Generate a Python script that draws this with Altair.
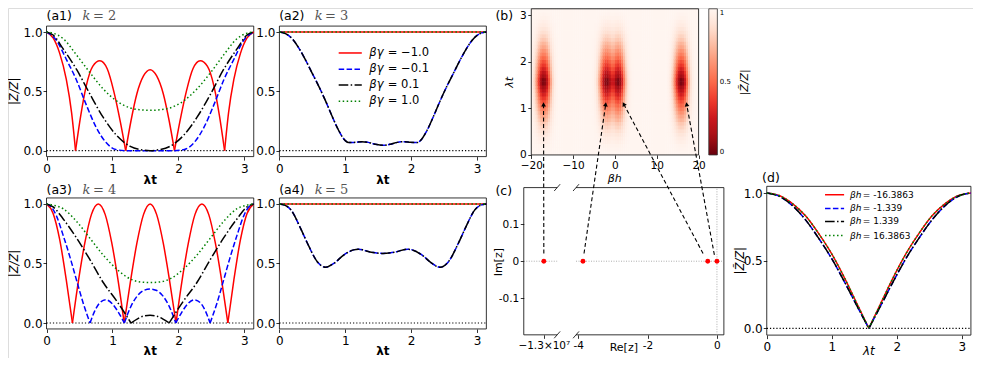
import math
import numpy as np
import pandas as pd
import altair as alt

PI = math.pi
FONT = "DejaVu Sans"
W, H = 965, 350
X0, SX = 3.5, 964.0 / 976.0
Y0, SY = 4.0, 350.0 / 358.0


def X(px):
    return (px - X0) * SX


def Y(py):
    return (py - Y0) * SY


# ---------------- data ----------------
# (a1) k = 2
a1_red_t = [0, 0.1, 0.2, 0.3, 0.38, 0.44, 0.52, 0.6, 0.7, 0.81, 0.92, 1.02, 1.12, 1.2,
            1.28, 1.37, 1.47, 1.571, 1.67, 1.77, 1.86, 1.94, 2.02, 2.12, 2.22, 2.33,
            2.44, 2.54, 2.62, 2.70, 2.76, 2.84, 2.94, 3.04, PI]
a1_red_v = [1.0, 0.95, 0.82, 0.60, 0.32, 0.0, 0.30, 0.54, 0.71, 0.757, 0.69, 0.50, 0.24, 0.0,
            0.25, 0.48, 0.63, 0.683, 0.63, 0.48, 0.25, 0.0, 0.24, 0.50, 0.69, 0.757,
            0.71, 0.54, 0.30, 0.0, 0.32, 0.60, 0.82, 0.95, 1.0]
a1_blue_t = [0, 0.15, 0.3, 0.45, 0.6, 0.75, 0.9, 1.05, 1.2, 1.35, 1.571, 1.79, 1.94, 2.09,
             2.24, 2.39, 2.54, 2.69, 2.84, 2.99, PI]
a1_blue_v = [1.0, 0.93, 0.77, 0.60, 0.39, 0.20, 0.07, 0.01, 0.0, 0.0, 0.0, 0.0, 0.0, 0.01,
             0.07, 0.20, 0.39, 0.60, 0.77, 0.93, 1.0]
a1_black_t = [0, 0.1, 0.25, 0.46, 0.655, 0.86, 1.06, 1.27, 1.47, 1.571, 1.67, 1.87, 2.08,
              2.28, 2.49, 2.68, 2.89, 3.04, PI]
a1_black_v = [1.0, 0.975, 0.86, 0.68, 0.48, 0.28, 0.13, 0.036, 0.005, 0.0, 0.005, 0.036, 0.13,
              0.28, 0.48, 0.68, 0.86, 0.975, 1.0]
a1_green_t = [0, 0.1, 0.25, 0.45, 0.655, 0.86, 1.06, 1.27, 1.42, 1.571, 1.72, 1.87, 2.08,
              2.28, 2.49, 2.69, 2.89, 3.04, PI]
a1_green_v = [1.0, 0.99, 0.945, 0.81, 0.66, 0.52, 0.42, 0.36, 0.345, 0.34, 0.345, 0.36, 0.42,
              0.52, 0.66, 0.81, 0.945, 0.99, 1.0]

# (a2) k = 3
flat_t = [0, PI]
flat_v = [1.0, 1.0]
a2_curve_t = [0, 0.1, 0.2, 0.3, 0.4, 0.5, 0.6, 0.7, 0.8, 0.9, 1.0, 1.05, 1.15, 1.25, 1.35,
              1.45, 1.571, 1.69, 1.79, 1.89, 1.99, 2.09, 2.14, 2.24, 2.34, 2.44, 2.54, 2.64,
              2.74, 2.84, 2.94, 3.04, PI]
a2_curve_v = [1.0, 0.985, 0.94, 0.86, 0.76, 0.65, 0.54, 0.42, 0.29, 0.17, 0.085, 0.068, 0.07,
              0.076, 0.07, 0.055, 0.045, 0.055, 0.07, 0.076, 0.07, 0.068, 0.085, 0.17, 0.29,
              0.42, 0.54, 0.65, 0.76, 0.86, 0.94, 0.985, 1.0]

# (a3) k = 4
a3_red_t = [0, 0.1, 0.2, 0.3, 0.393, 0.48, 0.58, 0.68, 0.785, 0.89, 0.99, 1.09, 1.178,
            1.27, 1.37, 1.47, 1.571, 1.67, 1.77, 1.87, 1.963, 2.05, 2.15, 2.25, 2.356,
            2.46, 2.56, 2.66, 2.749, 2.84, 2.94, 3.04, PI]
a3_red_v = [1.0, 0.92, 0.70, 0.36, 0.0, 0.34, 0.67, 0.91, 1.0, 0.91, 0.67, 0.34, 0.0,
            0.34, 0.67, 0.91, 1.0, 0.91, 0.67, 0.34, 0.0, 0.34, 0.67, 0.91, 1.0,
            0.91, 0.67, 0.34, 0.0, 0.36, 0.70, 0.92, 1.0]
a3_blue_t = [0, 0.08, 0.15, 0.25, 0.36, 0.46, 0.56, 0.66, 0.73, 0.8, 0.9, 1.0, 1.09, 1.18,
             1.28, 1.38, 1.48, 1.571, 1.66, 1.76, 1.86, 1.96, 2.05, 2.14, 2.24, 2.34, 2.41,
             2.48, 2.58, 2.68, 2.78, 2.89, 2.99, 3.06, PI]
a3_blue_v = [1.0, 0.97, 0.90, 0.74, 0.545, 0.35, 0.16, 0.0, 0.10, 0.165, 0.195, 0.16, 0.09, 0.0,
             0.14, 0.23, 0.275, 0.285, 0.275, 0.23, 0.14, 0.0, 0.09, 0.16, 0.195, 0.165, 0.10,
             0.0, 0.16, 0.35, 0.545, 0.74, 0.90, 0.97, 1.0]
a3_black_t = [0, 0.1, 0.25, 0.46, 0.66, 0.86, 1.07, 1.19, 1.28, 1.38, 1.47, 1.571, 1.67, 1.76,
              1.86, 1.95, 2.07, 2.28, 2.48, 2.68, 2.89, 3.04, PI]
a3_black_v = [1.0, 0.975, 0.876, 0.71, 0.53, 0.34, 0.18, 0.08, 0.0, 0.035, 0.058, 0.065, 0.058,
              0.035, 0.0, 0.08, 0.18, 0.34, 0.53, 0.71, 0.876, 0.975, 1.0]
a3_green_t = [0, 0.1, 0.25, 0.46, 0.66, 0.86, 1.07, 1.27, 1.42, 1.571, 1.72, 1.87, 2.07, 2.28,
              2.48, 2.68, 2.89, 3.04, PI]
a3_green_v = [1.0, 0.99, 0.96, 0.85, 0.71, 0.57, 0.45, 0.37, 0.345, 0.34, 0.345, 0.37, 0.45,
              0.57, 0.71, 0.85, 0.96, 0.99, 1.0]

# (a4) k = 5
a4_curve_t = [0, 0.08, 0.175, 0.325, 0.425, 0.575, 0.7, 0.825, 0.975, 1.125, 1.2, 1.375, 1.571,
              1.767, 1.942, 2.017, 2.167, 2.317, 2.442, 2.567, 2.717, 2.817, 2.967, 3.06, PI]
a4_curve_v = [1.0, 0.99, 0.95, 0.79, 0.67, 0.515, 0.468, 0.50, 0.57, 0.614, 0.62, 0.597, 0.584,
              0.597, 0.62, 0.614, 0.57, 0.50, 0.468, 0.515, 0.67, 0.79, 0.95, 0.99, 1.0]

# (d)
d_t = [0, 0.2, 0.4, 0.6, 0.8, 1.0, 1.2, 1.4, 1.571, 1.74, 1.94, 2.14, 2.34, 2.54, 2.74, 2.94, PI]
d_outer_v = [1.0, 0.98, 0.92, 0.83, 0.70, 0.55, 0.37, 0.17, 0.0, 0.17, 0.37, 0.55, 0.70, 0.83,
             0.92, 0.98, 1.0]
d_inner_v = [1.0, 0.975, 0.905, 0.80, 0.665, 0.515, 0.34, 0.155, 0.0, 0.155, 0.34, 0.515, 0.665,
             0.80, 0.905, 0.975, 1.0]

# (b) heat map: column depth profile (beta h, 0.5 wide cells from -20 to 20)
b_col_depth = [0.94, 0.82, 0.62, 0.35, 0.12, 0.01, 0.03, 0.16, 0.41, 0.67, 0.85, 0.95, 0.985, 1.0,
               1.0, 1.0, 1.0, 1.0, 1.0, 1.0, 1.0, 1.0, 1.0, 1.0, 1.0, 1.0, 1.0, 1.0, 1.0,
               0.985, 0.95, 0.85, 0.67, 0.41, 0.16, 0.03, 0.01, 0.10, 0.22, 0.20, 0.06, 0.0,
               0.06, 0.25, 0.52, 0.76, 0.90, 0.97, 0.995,
               1.0, 1.0, 1.0, 1.0, 1.0, 1.0, 1.0, 1.0, 1.0, 1.0, 1.0, 1.0, 1.0, 1.0, 1.0, 1.0,
               0.975, 0.92, 0.79, 0.57, 0.30, 0.09, 0.0, 0.04, 0.21, 0.47, 0.72, 0.88, 0.96,
               0.99, 1.0]
# row profile (lambda t, 40 rows from 0 to pi)
b_row_level = [1.0, 0.99, 0.98, 0.96, 0.94, 0.91, 0.87, 0.83, 0.79, 0.73, 0.68, 0.62, 0.56, 0.49,
               0.42, 0.35, 0.27, 0.19, 0.12, 0.04, 0.04, 0.12, 0.19, 0.27, 0.35, 0.42, 0.49, 0.56,
               0.62, 0.68, 0.73, 0.79, 0.83, 0.87, 0.91, 0.94, 0.96, 0.98, 0.99, 1.0]
# Reds_r colour stops
cmap_stops = [0, 0.125, 0.25, 0.375, 0.5, 0.625, 0.75, 0.875, 1.0]
cmap_colors = ["#67000d", "#a50f15", "#cb181d", "#ef3b2c", "#fb6a4a", "#fc9272", "#fcbba1",
               "#fee0d2", "#fff5f0"]

# (c) zeros in the complex plane
c_far_re = [-1.3e7]
c_near_re = [-3.86, -0.265, 0.0]
arrow_tail = [("cL", -1.3e7, 0.021), ("cR", -3.83, 0.021), ("cR", -0.40, 0.021), ("cR", -0.074, 0.017)]
arrow_tip = [(-17.07, 1.14), (-2.13, 1.14), (1.82, 1.14), (17.04, 1.14)]

legend_a = ["= \u22121.0", "= \u22120.1", "= 0.1", "= 1.0"]
legend_d = ["= -16.3863", "= -1.339", "= 1.339", "= 16.3863"]

# ---------------- geometry ----------------
P = {
    'a1': dict(xd=[0, PI], xr=[42.5, 252.3], yd=[-0.05, 1.05], yr=[156.0, 22.5]),
    'a2': dict(xd=[0, PI], xr=[278.3, 487.8], yd=[-0.05, 1.05], yr=[156.0, 22.5]),
    'a3': dict(xd=[0, PI], xr=[42.5, 252.3], yd=[-0.05, 1.05], yr=[332.3, 198.3]),
    'a4': dict(xd=[0, PI], xr=[278.3, 487.8], yd=[-0.05, 1.05], yr=[332.3, 198.3]),
    'b': dict(xd=[-20, 20], xr=[533.3, 702.7], yd=[0, PI], yr=[154.3, 4.8]),
    'cL': dict(xd=[-13203000, -12865000], xr=[525.7, 559.5], yd=[-0.2, 0.2], yr=[338.3, 187.7]),
    'cR': dict(xd=[-4.06, 0.2], xr=[578.6, 728.3], yd=[-0.2, 0.2], yr=[338.3, 187.7]),
    'd': dict(xd=[0, PI], xr=[771.7, 978.4], yd=[-0.05, 1.05], yr=[338.6, 186.4]),
}


def sx(p):
    g = P[p]
    return alt.Scale(domain=g['xd'], range=[X(g['xr'][0]), X(g['xr'][1])], nice=False, zero=False)


def sy(p):
    g = P[p]
    return alt.Scale(domain=g['yd'], range=[Y(g['yr'][0]), Y(g['yr'][1])], nice=False, zero=False)


def to_px(p, xv, yv):
    g = P[p]
    px = g['xr'][0] + (xv - g['xd'][0]) * (g['xr'][1] - g['xr'][0]) / (g['xd'][1] - g['xd'][0])
    py = g['yr'][0] + (yv - g['yd'][0]) * (g['yr'][1] - g['yr'][0]) / (g['yd'][1] - g['yd'][0])
    return X(px), Y(py)


AX = dict(grid=False, domain=False, ticks=True, tickColor='black', tickWidth=0.8, tickSize=3.5,
          labelFont=FONT, labelColor='black', labelFlush=False, labelOverlap=False, title=None)


def bottom_axis(p, values, size=12, fmt=None, expr=None, pad=3):
    kw = dict(AX, orient='bottom', offset=Y(P[p]['yr'][0]) - H, values=values,
              labelFontSize=size, labelPadding=pad)
    if fmt:
        kw['format'] = fmt
    if expr:
        kw['labelExpr'] = expr
    return alt.Axis(**kw)


def left_axis(p, values, size=12, fmt=None, expr=None, pad=1.0):
    kw = dict(AX, orient='left', offset=-X(P[p]['xr'][0]), values=values,
              labelFontSize=size, labelPadding=pad)
    if fmt:
        kw['format'] = fmt
    if expr:
        kw['labelExpr'] = expr
    return alt.Axis(**kw)


def frame(p, xaxis, yaxis):
    g = P[p]
    df = pd.DataFrame({'x0': [g['xd'][0]], 'x1': [g['xd'][1]], 'y0': [g['yd'][0]], 'y1': [g['yd'][1]]})
    return alt.Chart(df).mark_rect(fillOpacity=0, stroke='black', strokeWidth=0.8).encode(
        x=alt.X('x0:Q', scale=sx(p), axis=xaxis), x2='x1:Q',
        y=alt.Y('y0:Q', scale=sy(p), axis=yaxis), y2='y1:Q')


def series(p, t, v, color, dash=None, width=1.5, cusp=False):
    rows, seg = [], 0
    for i, (a, b) in enumerate(zip(t, v)):
        rows.append({'t': a, 'v': b, 'seg': seg})
        if cusp and b == 0 and 0 < i < len(t) - 1:
            seg += 1
            rows.append({'t': a, 'v': b, 'seg': seg})
    kw = dict(color=color, strokeWidth=width, interpolate='monotone')
    if dash:
        kw['strokeDash'] = dash
    return alt.Chart(pd.DataFrame(rows)).mark_line(**kw).encode(
        x=alt.X('t:Q', scale=sx(p), axis=None),
        y=alt.Y('v:Q', scale=sy(p), axis=None),
        detail='seg:N')


def zero_line(p, color='black', dash=(1.2, 2.0), width=1.2):
    g = P[p]
    df = pd.DataFrame({'x': [g['xd'][0]], 'x2': [g['xd'][1]], 'y': [0.0]})
    return alt.Chart(df).mark_rule(color=color, strokeDash=list(dash), strokeWidth=width).encode(
        x=alt.X('x:Q', scale=sx(p), axis=None), x2='x2:Q',
        y=alt.Y('y:Q', scale=sy(p), axis=None))


def text(s, px, py, size, align='left', baseline='middle', angle=None, style=None,
         weight=None, color='black', font=FONT):
    kw = dict(font=font, fontSize=size, align=align, baseline=baseline, color=color)
    if angle is not None:
        kw['angle'] = angle
    if style:
        kw['fontStyle'] = style
    if weight:
        kw['fontWeight'] = weight
    return alt.Chart(pd.DataFrame({'s': [s]})).mark_text(**kw).encode(
        x=alt.value(X(px)), y=alt.value(Y(py)), text='s:N')


def pix_rules(rows, color, width, dash=None):
    df = pd.DataFrame(rows, columns=['x', 'y', 'x2', 'y2'])
    kw = dict(color=color, strokeWidth=width)
    if dash:
        kw['strokeDash'] = dash
    return alt.Chart(df).mark_rule(**kw).encode(
        x=alt.X('x:Q', scale=None, axis=None), x2='x2:Q',
        y=alt.Y('y:Q', scale=None, axis=None), y2='y2:Q')


RED, BLUE, BLACK, GREEN = '#ff0000', '#0000ff', '#000000', '#008000'
DASH = [5.5, 2.4]
DASHDOT = [9.6, 2.4, 1.5, 2.4]
DOT = [1.5, 2.5]

layers = []

# ---------------- (b) heat map ----------------
cmap = alt.Scale(domain=cmap_stops, range=cmap_colors, interpolate='rgb')
bh_edges = -20 + 0.5 * np.arange(len(b_col_depth) + 1)
lt_edges = PI / len(b_row_level) * np.arange(len(b_row_level) + 1)
hm = []
for i, dcol in enumerate(b_col_depth):
    for j, trow in enumerate(b_row_level):
        hm.append(dict(x0=bh_edges[i], x1=min(bh_edges[i + 1] + 0.06, 20.0),
                       y0=lt_edges[j], y1=min(lt_edges[j + 1] + 0.012, PI),
                       v=1 - (1 - dcol) * (1 - trow)))
layers.append(alt.Chart(pd.DataFrame(hm)).mark_rect().encode(
    x=alt.X('x0:Q', scale=sx('b'), axis=None), x2='x1:Q',
    y=alt.Y('y0:Q', scale=sy('b'), axis=None), y2='y1:Q',
    color=alt.Color('v:Q', scale=cmap, legend=alt.Legend(
        type='gradient', orient='none', legendX=X(713), legendY=Y(4.8), direction='vertical',
        gradientLength=Y(154.3) - Y(4.8), gradientThickness=X(721.7) - X(713),
        title=None, values=[0, 0.5, 1], format='.1~f', labelFontSize=7, labelFont=FONT,
        labelColor='black', labelOffset=2.5, gradientStrokeColor='#333333',
        gradientStrokeWidth=0.8, padding=0, offset=0))))
layers.append(frame('b', bottom_axis('b', [-20, -10, 0, 10, 20], size=10.5, fmt='d', pad=2),
                    left_axis('b', [0, 1, 2, 3], size=10.5, fmt='d', pad=1.5)))

# ---------------- (a) panels ----------------
for p in ['a1', 'a2', 'a3', 'a4']:
    layers.append(frame(p, bottom_axis(p, [0, 1, 2, 3], fmt='d'),
                        left_axis(p, [0, 0.5, 1], fmt='.1f')))
    layers.append(zero_line(p))

layers += [series('a1', a1_red_t, a1_red_v, RED, cusp=True),
           series('a1', a1_blue_t, a1_blue_v, BLUE, DASH),
           series('a1', a1_black_t, a1_black_v, BLACK, DASHDOT),
           series('a1', a1_green_t, a1_green_v, GREEN, DOT)]
layers += [series('a2', flat_t, flat_v, RED),
           series('a2', a2_curve_t, a2_curve_v, BLUE, DASH),
           series('a2', a2_curve_t, a2_curve_v, BLACK, DASHDOT),
           series('a2', flat_t, flat_v, GREEN, DOT)]
layers += [series('a3', a3_red_t, a3_red_v, RED, cusp=True),
           series('a3', a3_blue_t, a3_blue_v, BLUE, DASH, cusp=True),
           series('a3', a3_black_t, a3_black_v, BLACK, DASHDOT, cusp=True),
           series('a3', a3_green_t, a3_green_v, GREEN, DOT)]
layers += [series('a4', flat_t, flat_v, RED),
           series('a4', a4_curve_t, a4_curve_v, BLUE, DASH),
           series('a4', a4_curve_t, a4_curve_v, BLACK, DASHDOT),
           series('a4', flat_t, flat_v, GREEN, DOT)]

# ---------------- (d) ----------------
layers.append(frame('d', bottom_axis('d', [0, 1, 2, 3], fmt='d'), left_axis('d', [0, 0.5, 1], fmt='.1f')))
layers.append(zero_line('d'))
layers += [series('d', d_t, d_outer_v, RED, cusp=True),
           series('d', d_t, d_inner_v, BLUE, DASH, cusp=True),
           series('d', d_t, d_inner_v, BLACK, DASHDOT, cusp=True),
           series('d', d_t, d_outer_v, GREEN, DOT, cusp=True)]

# ---------------- (c) broken axis ----------------
for p, side in [('cL', 'left'), ('cR', 'right')]:
    g = P[p]
    xa, xb = g['xd']
    rows = [dict(x=xa, x2=xb, y=0.2, y2=0.2), dict(x=xa, x2=xb, y=-0.2, y2=-0.2)]
    edge = xa if side == 'left' else xb
    rows.append(dict(x=edge, x2=edge, y=-0.2, y2=0.2))
    if p == 'cL':
        xaxis = bottom_axis(p, [-1.3e7], size=10.5, expr="'\u22121.3\u00d710\u2077'", pad=2.5)
        yaxis = left_axis(p, [-0.1, 0, 0.1], size=10.5,
                          expr="datum.value > 0.05 ? '0.1' : (datum.value < -0.05 ? '-0.1' : '0')", pad=1.5)
    else:
        xaxis = bottom_axis(p, [-4, -2, 0], size=10.5,
                            expr="datum.value == 0 ? '0' : '-' + abs(datum.value)", pad=2.5)
        yaxis = None
    layers.append(alt.Chart(pd.DataFrame(rows)).mark_rule(color='black', strokeWidth=0.8).encode(
        x=alt.X('x:Q', scale=sx(p), axis=xaxis), x2='x2:Q',
        y=alt.Y('y:Q', scale=sy(p), axis=yaxis), y2='y2:Q'))
    layers.append(zero_line(p, color='#999999', dash=(1.0, 1.5), width=0.8))

layers.append(alt.Chart(pd.DataFrame({'x': [0.0], 'y': [-0.2], 'y2': [0.2]})).mark_rule(
    color='#999999', strokeDash=[1.0, 1.5], strokeWidth=0.8).encode(
    x=alt.X('x:Q', scale=sx('cR'), axis=None),
    y=alt.Y('y:Q', scale=sy('cR'), axis=None), y2='y2:Q'))

# break marks
brk = []
for bx in [559.5, 578.6]:
    for by in [187.7, 338.3]:
        brk.append([X(bx - 3), Y(by + 3.5), X(bx + 3), Y(by - 3.5)])
layers.append(pix_rules(brk, 'black', 0.8))

layers.append(alt.Chart(pd.DataFrame({'re': c_far_re, 'im': [0.0] * len(c_far_re)})).mark_circle(
    color='red', size=24, opacity=1).encode(
    x=alt.X('re:Q', scale=sx('cL'), axis=None), y=alt.Y('im:Q', scale=sy('cL'), axis=None)))
layers.append(alt.Chart(pd.DataFrame({'re': c_near_re, 'im': [0.0] * len(c_near_re)})).mark_circle(
    color='red', size=24, opacity=1).encode(
    x=alt.X('re:Q', scale=sx('cR'), axis=None), y=alt.Y('im:Q', scale=sy('cR'), axis=None)))

# arrows from (c) zeros to (b)
arr = []
heads = []
for (pc, xr_, yr_), (xb_, yb_) in zip(arrow_tail, arrow_tip):
    x1, y1 = to_px(pc, xr_, yr_)
    x2, y2 = to_px('b', xb_, yb_)
    dx, dy = x2 - x1, y2 - y1
    L = math.hypot(dx, dy)
    ux, uy = dx / L, dy / L
    arr.append([x1, y1, x2 - 3 * ux, y2 - 3 * uy])
    ang = (math.degrees(math.atan2(dx, -dy)) + 360.0) % 360.0
    heads.append((x2 - 2.5 * ux, y2 - 2.5 * uy, ang))
layers.append(pix_rules(arr, 'black', 1.1, dash=[4, 2.6]))
for hx, hy, ang in heads:
    layers.append(alt.Chart(pd.DataFrame({'k': [0]})).mark_point(
        shape='triangle-up', filled=True, color='black', size=22, angle=ang, opacity=1).encode(
        x=alt.value(hx), y=alt.value(hy)))

# ---------------- legends ----------------
rows_a = [50.0, 66.7, 82.7, 99.3]
styles = [(RED, None), (BLUE, DASH), (BLACK, DASHDOT), (GREEN, DOT)]
for (col, dash), ry, lab in zip(styles, rows_a, legend_a):
    layers.append(pix_rules([[X(338.3), Y(ry), X(361.7), Y(ry)]], col, 1.5, dash))
    layers.append(text("\u03b2\u03b3", 369.3, ry, 11.5, style='italic'))
    layers.append(text(lab, 388.0, ry, 11.5))
rows_d = [195.0, 209.0, 222.3, 236.7]
for (col, dash), ry, lab in zip(styles, rows_d, legend_d):
    layers.append(pix_rules([[X(830.7), Y(ry), X(850.0), Y(ry)]], col, 1.5, dash))
    layers.append(text("\u03b2h", 856.0, ry, 9, style='italic'))
    layers.append(text(lab, 869.0, ry, 9))

# ---------------- texts ----------------
ZL = "|Z\u0303/Z|"
for s, px, py in [("(a1)", 42.5, 12), ("(a2)", 278, 12), ("(a3)", 42.5, 190.5),
                  ("(a4)", 278, 190.5), ("(b)", 497, 12.5), ("(c)", 497, 191.5), ("(d)", 767, 178)]:
    layers.append(text(s, px, py, 12.5))
for kv, px, py in [("2", 79, 12), ("3", 314, 12), ("4", 79, 190.5), ("5", 314, 190.5)]:
    layers.append(text("k", px, py, 13, style='italic', color='#555555', font='DejaVu Serif'))
    layers.append(text("= " + kv, px + 10.5, py, 13, color='#555555', font='DejaVu Serif'))
for px, py in [(10.5, 89.3), (10.5, 265.3), (746, 262.5)]:
    layers.append(text(ZL, px, py, 11.5, align='center', angle=270, style='italic'))
for px, py in [(147.5, 179.5), (383, 179.5), (147.5, 355.0), (383, 355.0)]:
    layers.append(text("\u03bbt", px, py, 12, align='center', weight='bold'))
layers.append(text("\u03bbt", 875, 354.5, 12, align='center', style='italic'))
layers.append(text("\u03b2h", 617.7, 178.5, 11, align='center', style='italic'))
layers.append(text("\u03bbt", 511.5, 80, 11, align='center', angle=270, style='italic'))
layers.append(text(ZL, 749.5, 80, 11, align='center', angle=270, style='italic'))
layers.append(text("Im[z]", 500.5, 264, 11, align='center', angle=270))
layers.append(text("Re[z]", 627, 351.5, 11, align='center'))

chart = alt.layer(*layers).resolve_scale(
    x='independent', y='independent', color='independent'
).properties(width=W, height=H, autosize='none', padding=0).configure_view(
    strokeWidth=0).configure(background='white', font=FONT)

chart.save("out.html", embed_options={"renderer": "svg", "actions": False})
